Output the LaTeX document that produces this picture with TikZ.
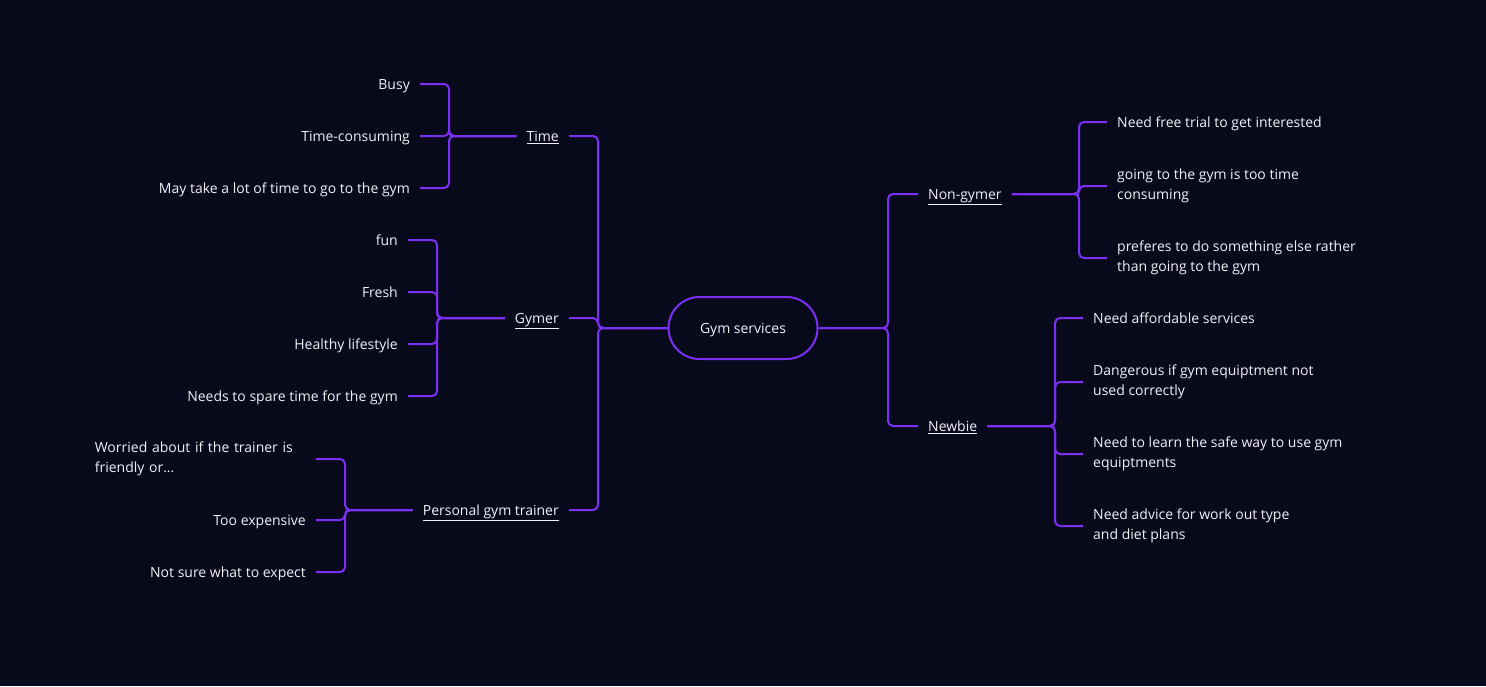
\documentclass[tikz,border=0pt]{standalone}
\usepackage{fontspec}
\setmainfont{Open Sans}
\usetikzlibrary{positioning}

\definecolor{bgnavy}{HTML}{080A1C}
\definecolor{gline}{HTML}{7B2FF2}
\definecolor{txt}{HTML}{F0F0F5}

\tikzset{
    topic/.style={draw=gline, line width=2pt, rounded corners=31pt, minimum width=149pt,
                  minimum height=62pt, text=txt, text height=12pt, text depth=1pt},
    sub/.style={text=txt, inner xsep=10pt, inner ysep=2pt, text height=12pt, text depth=1pt},
    leaf/.style={text=txt, inner xsep=10pt, inner ysep=2pt, text height=12pt, text depth=1pt},
    leaftwo/.style={text=txt, inner xsep=10pt, inner ysep=2pt, align=left},
    link/.style={draw=gline, line width=2pt, rounded corners=5pt},
}

\begin{document}
\begin{tikzpicture}[x=1pt, y=-1pt, font=\fontsize{14}{20}\selectfont]
    \fill[bgnavy] (0,0) rectangle (1486,686);
    \useasboundingbox (0,0) rectangle (1486,686);

    % centre
    \node[topic] (gym) at (743,328) {Gym services};

    % left side
    \node[sub, anchor=east] (time) at (569,136) {\underline{Time}};
    \node[sub, anchor=east] (gymer) at (569,318) {\underline{Gymer}};
    \node[sub, anchor=east] (trainer) at (569,510) {\underline{Personal gym trainer}};

    \node[leaf, anchor=east] (busy) at (420,84) {Busy};
    \node[leaf, anchor=east] (consume) at (420,136) {Time-consuming};
    \node[leaf, anchor=east] (goto) at (420,188) {May take a lot of time to go to the gym};

    \node[leaf, anchor=east] (fun) at (408,240) {fun};
    \node[leaf, anchor=east] (fresh) at (408,292) {Fresh};
    \node[leaf, anchor=east] (healthy) at (408,344) {Healthy lifestyle};
    \node[leaf, anchor=east] (spare) at (408,396) {Needs to spare time for the gym};

    \node[leaftwo, anchor=east, text width=211pt] (worried) at (316,459) {Worried about if the trainer is\\friendly or...};
    \node[leaf, anchor=east] (pricey) at (316,520) {Too expensive};
    \node[leaf, anchor=east] (unsure) at (316,572) {Not sure what to expect};

    % right side
    \node[sub, anchor=west] (nongymer) at (918,194) {\underline{Non-gymer}};
    \node[sub, anchor=west] (newbie) at (918,426) {\underline{Newbie}};

    \node[leaf, anchor=west] (trial) at (1107,122) {Need free trial to get interested};
    \node[leaftwo, anchor=west] (toolong) at (1107,186) {going to the gym is too time\\consuming};
    \node[leaftwo, anchor=west] (rather) at (1107,258) {preferes to do something else rather\\than going to the gym};

    \node[leaf, anchor=west] (afford) at (1083,318) {Need affordable services};
    \node[leaftwo, anchor=west] (danger) at (1083,382) {Dangerous if gym equiptment not\\used correctly};
    \node[leaftwo, anchor=west] (safe) at (1083,454) {Need to learn the safe way to use gym\\equiptments};
    \node[leaftwo, anchor=west] (advice) at (1083,526) {Need advice for work out type\\and diet plans};

    % junctions
    \coordinate (jl) at (598,328);
    \coordinate (jr) at (888,328);
    \coordinate (jtime) at (449,136);
    \coordinate (jgymer) at (437,318);
    \coordinate (jtrainer) at (345,510);
    \coordinate (jnon) at (1079,194);
    \coordinate (jnew) at (1055,426);

    \foreach \k in {time,gymer,trainer}
        \draw[link] (gym.west) -- (jl) |- (\k.east);
    \foreach \k in {nongymer,newbie}
        \draw[link] (gym.east) -- (jr) |- (\k.west);

    \foreach \k in {busy,consume,goto}
        \draw[link] (time.west) -- (jtime) |- (\k.east);
    \foreach \k in {fun,fresh,healthy,spare}
        \draw[link] (gymer.west) -- (jgymer) |- (\k.east);
    \foreach \k in {worried,pricey,unsure}
        \draw[link] (trainer.west) -- (jtrainer) |- (\k.east);

    \foreach \k in {trial,toolong,rather}
        \draw[link] (nongymer.east) -- (jnon) |- (\k.west);
    \foreach \k in {afford,danger,safe,advice}
        \draw[link] (newbie.east) -- (jnew) |- (\k.west);
\end{tikzpicture}
\end{document}
